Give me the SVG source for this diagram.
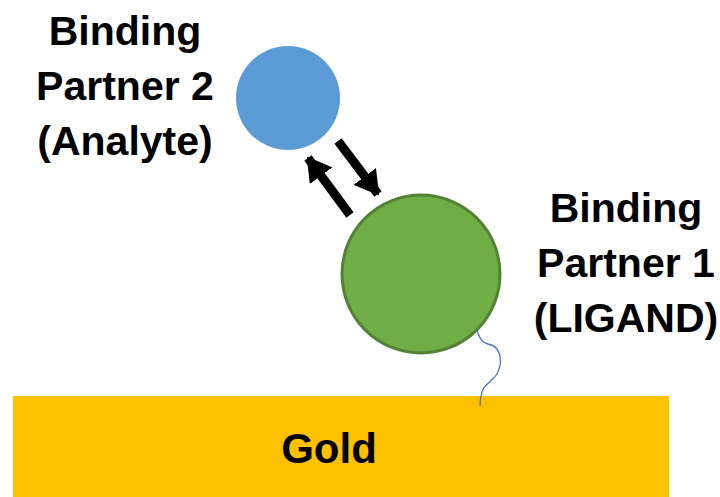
<svg xmlns="http://www.w3.org/2000/svg" width="720" height="497" viewBox="0 0 720 497">
<style>
text{font-family:"Liberation Sans",Arial,sans-serif;font-weight:bold;fill:#000;text-anchor:middle}
.lbl{font-size:41px}
</style>
<defs>
<marker id="ah" markerUnits="userSpaceOnUse" markerWidth="24" markerHeight="28" refX="22" refY="14" orient="auto">
<path d="M0,0 L24,14 L0,28 Z" fill="#000"/>
</marker>
</defs>
<rect width="720" height="497" fill="#fff"/>
<g id="gold">
<rect x="13" y="396" width="656" height="101" fill="#FFC000"/>
<text x="329" y="463" font-size="42">Gold</text>
</g>
<g id="analyte">
<circle cx="288" cy="98" r="52" fill="#5B9BD5"/>
<text class="lbl" x="125" y="45">Binding</text>
<text class="lbl" x="125" y="100">Partner 2</text>
<text class="lbl" x="125" y="155">(Analyte)</text>
</g>
<g id="ligand">
<circle cx="421" cy="274" r="79" fill="#70AD47" stroke="#548235" stroke-width="3"/>
<text class="lbl" x="626" y="222">Binding</text>
<text class="lbl" x="626" y="277">Partner 1</text>
<text class="lbl" x="626" y="332">(LIGAND)</text>
</g>
<g id="connectors">
<line x1="338" y1="141" x2="378" y2="194" stroke="#000" stroke-width="9" marker-end="url(#ah)"/>
<line x1="350" y1="215" x2="308" y2="158" stroke="#000" stroke-width="9" marker-end="url(#ah)"/>
<path d="M477,330 C480,340 483,343 488,344 C500,346 504,360 497,374 C492,382 484,384 482,392 C480,398 480,402 480,406" fill="none" stroke="#4472C4" stroke-width="1.3"/>
</g>
</svg>
